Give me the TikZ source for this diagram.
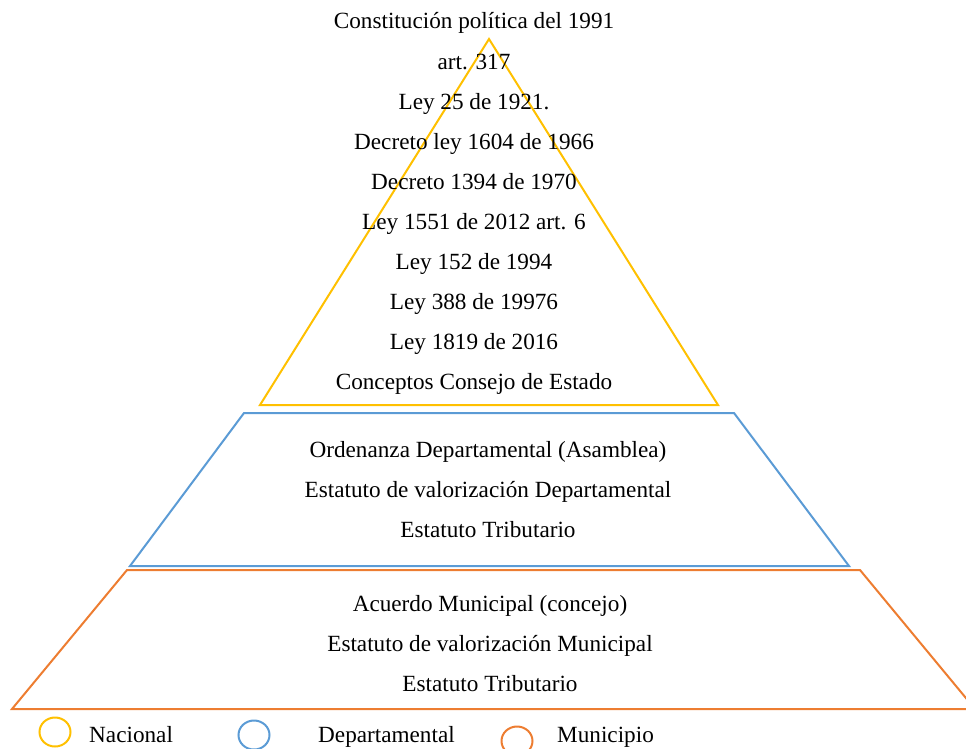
\documentclass[tikz,border=0pt]{standalone}
\usepackage{fontspec}
\setmainfont{Liberation Serif}
\usetikzlibrary{shapes.geometric}
\definecolor{nacional}{HTML}{FFC000}
\definecolor{depto}{HTML}{5B9BD5}
\definecolor{muni}{HTML}{ED7D31}
\tikzset{
  level/.style={line width=2pt, line join=miter},
  label/.style={font=\fontsize{23.2}{26}\selectfont, inner sep=0pt,
    text height=16pt, text depth=5pt, anchor=center},
  legendmark/.style={ellipse, minimum width=31pt, minimum height=29pt, line width=2pt, inner sep=0pt},
}
\begin{document}
\begin{tikzpicture}[x=1pt, y=-1pt]
\useasboundingbox (0,0) rectangle (966,748);
\begin{scope}
\clip (0,0) rectangle (966,748);
% national level: triangle
\draw[level, nacional] (489,39) -- (718,405) -- (260,405) -- cycle;
% departmental level
\draw[level, depto] (244,413) -- (734,413) -- (849,566) -- (130,566) -- cycle;
% municipal level
\draw[level, muni] (127,570) -- (860,570) -- (975,709) -- (12,709) -- cycle;
\end{scope}

% national norms
\node[label] (n1) at (474,23) {Constitución política del 1991};
\node[label] (n2) at (474,64) {art. 317};
\node[label] (n3) at (474,104) {Ley 25 de 1921.};
\node[label] (n4) at (474,144) {Decreto ley 1604 de 1966};
\node[label] (n5) at (474,184) {Decreto 1394 de 1970};
\node[label] (n6) at (474,224) {Ley 1551 de 2012 art. 6};
\node[label] (n7) at (474,264) {Ley 152 de 1994};
\node[label] (n8) at (474,304) {Ley 388 de 19976};
\node[label] (n9) at (474,344) {Ley 1819 de 2016};
\node[label] (n10) at (474,384) {Conceptos Consejo de Estado};

% departmental norms
\node[label] (d1) at (488,452) {Ordenanza Departamental (Asamblea)};
\node[label] (d2) at (488,492) {Estatuto de valorización Departamental};
\node[label] (d3) at (488,532) {Estatuto Tributario};

% municipal norms
\node[label] (m1) at (490,606) {Acuerdo Municipal (concejo)};
\node[label] (m2) at (490,646) {Estatuto de valorización Municipal};
\node[label] (m3) at (490,686) {Estatuto Tributario};

% legend
\node[legendmark, draw=nacional] (l1) at (55,732) {};
\node[label, anchor=west] (t1) at (89,737) {Nacional};
\node[legendmark, draw=depto] (l2) at (254,735) {};
\node[label, anchor=west] (t2) at (318,737) {Departamental};
\node[legendmark, draw=muni] (l3) at (517,741) {};
\node[label, anchor=west] (t3) at (557,737) {Municipio};
\end{tikzpicture}
\end{document}
